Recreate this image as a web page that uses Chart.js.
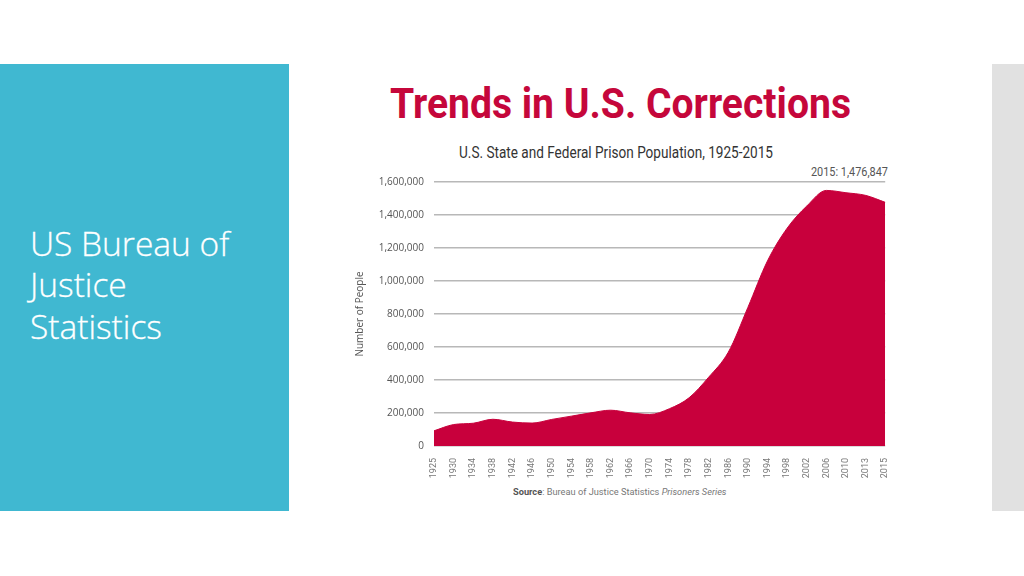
<!DOCTYPE html>
<html><head><meta charset="utf-8">
<script src="https://cdn.jsdelivr.net/npm/chart.js@4.4.1/dist/chart.umd.min.js"></script>
<style>
html,body{margin:0;padding:0;background:#fff;width:1024px;height:576px;overflow:hidden;position:relative;font-family:Roboto,sans-serif}
#side{position:absolute;left:0;top:64px;width:289px;height:447px;background:#40B8D1}
#sidetext{position:absolute;left:30px;top:158.6px;color:#fff;font-family:"Open Sans",sans-serif;font-weight:300;font-size:33.5px;line-height:41.7px;white-space:nowrap;-webkit-text-stroke:0.3px #fff}
#gray{position:absolute;left:992px;top:64px;width:32px;height:447px;background:#E1E1E1}
.fit{position:absolute;white-space:nowrap;transform-origin:left top;line-height:1}
#title{top:82.6px;font-size:42px;font-weight:700;color:#C5073B}
#subtitle{top:144.5px;font-size:16.5px;color:#333}
#note{top:166px;font-size:12px;color:#555}
#source{top:488.4px;font-size:9px;color:#777}
#source b{color:#555;font-weight:700}
#wrap{position:absolute;left:340px;top:166px;width:560px;height:324px}
</style></head>
<body>
<div id="side"><div id="sidetext">US Bureau of<br>Justice<br>Statistics</div></div>
<div id="gray"></div>
<div id="title" class="fit">Trends in U.S. Corrections</div>
<div id="subtitle" class="fit">U.S. State and Federal Prison Population, 1925-2015</div>
<div id="note" class="fit"></div>
<div id="source" class="fit"><b>Source</b>: Bureau of Justice Statistics <i>Prisoners Series</i></div>
<div id="wrap"><canvas id="c" width="560" height="324"></canvas></div>
<script>
// Data
const years = ['1925','1930','1934','1938','1942','1946','1950','1954','1958','1962','1966','1970','1974','1978','1982','1986','1990','1994','1998','2002','2006','2010','2013','2015'];
const prisoners = [92000,130000,138000,162000,145000,139000,161000,181000,201000,217000,201000,191000,226000,292000,417000,568000,840000,1122000,1320000,1454000,1549000,1535000,1519000,1476847];
const yTicks = [0,200000,400000,600000,800000,1000000,1200000,1400000,1600000];
const noteYear = '2015';
const noteValue = 1476847;

function fmt(v){return v.toLocaleString('en-US');}
document.getElementById('note').textContent = noteYear + ': ' + fmt(noteValue);

function fit(id, left, width){
  const el = document.getElementById(id);
  const w = el.getBoundingClientRect().width;
  el.style.left = left + 'px';
  el.style.transform = 'scaleX(' + (width / w) + ')';
}
fit('title', 390, 461);
fit('subtitle', 459, 314);
fit('note', 811, 77);
fit('source', 512.7, 213.5);

new Chart(document.getElementById('c'), {
  type: 'line',
  data: {
    labels: years,
    datasets: [{
      data: prisoners,
      fill: 'origin',
      backgroundColor: '#C8003C',
      borderColor: '#C8003C',
      borderWidth: 1,
      pointRadius: 0,
      cubicInterpolationMode: 'monotone'
    }]
  },
  options: {
    responsive: false,
    animation: false,
    devicePixelRatio: 1,
    layout: {padding: {top: 7, right: 14, left: 0, bottom: 0}},
    plugins: {legend: {display: false}, tooltip: {enabled: false}},
    scales: {
      x: {
        type: 'category',
        offset: false,
        grid: {display: false},
        border: {display: false},
        ticks: {minRotation: 90, maxRotation: 90, autoSkip: false, padding: 4,
                font: {family: 'Roboto', size: 9}, color: '#777'},
        afterFit: s => { s.height = 44; }
      },
      y: {
        min: 0, max: 1600000,
        afterBuildTicks: s => { s.ticks = yTicks.map(v => ({value: v})); },
        grid: {color: '#B8B8B8', lineWidth: 1.5, drawTicks: false},
        border: {display: false},
        ticks: {padding: 10, font: {family: 'Open Sans', size: 10}, color: '#555',
                callback: v => fmt(v)},
        title: {display: true, text: 'Number of People', color: '#555',
                font: {family: 'Open Sans', size: 10}, padding: {top: 14, bottom: 0}},
        afterFit: s => { s.width = 94; }
      }
    }
  }
});
</script>
</body></html>
